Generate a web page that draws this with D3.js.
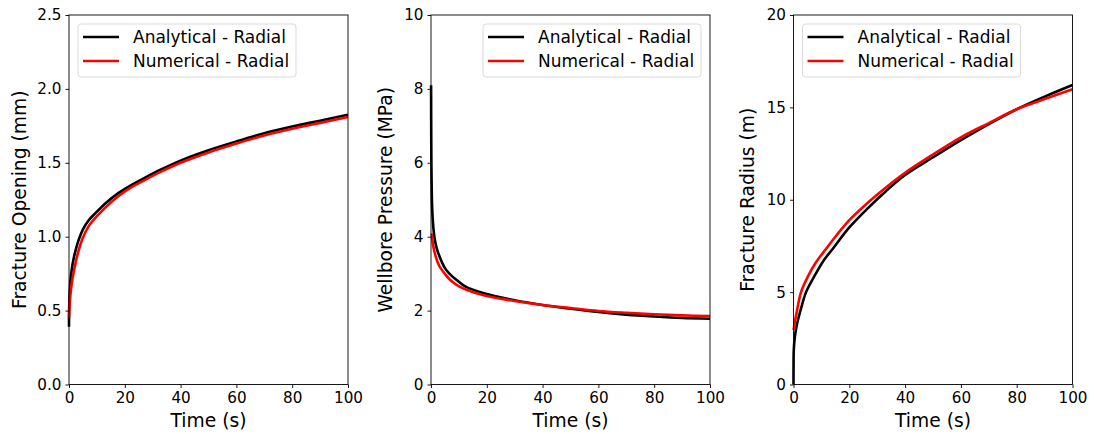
<!DOCTYPE html>
<html>
<head>
<meta charset="utf-8">
<script src="https://cdn.jsdelivr.net/npm/d3@7"></script>
<style>
  html, body { margin: 0; padding: 0; background: #fff; }
  svg text { font-family: "DejaVu Sans", sans-serif; fill: #000; }
</style>
</head>
<body>
<svg id="chart" width="1094" height="434"></svg>
<script>
// ---- Data ----
const seriesNames = ["Analytical - Radial", "Numerical - Radial"];
const seriesColors = ["#000000", "#ff0000"];
const xTicks = [0, 20, 40, 60, 80, 100];
const xLabel = "Time (s)";

// Panel 1: Fracture opening (mm)
const openingAnalyticalT = [0, 0.1, 0.5, 1, 1.7, 2.6, 3.6, 5, 7, 9.5, 13, 17.3, 22, 26.8, 33, 40, 50, 60, 70, 80, 90, 100];
const openingAnalyticalV = [0.39, 0.55, 0.70, 0.78, 0.855, 0.925, 0.985, 1.05, 1.11, 1.16, 1.225, 1.29, 1.345, 1.395, 1.455, 1.515, 1.585, 1.645, 1.70, 1.745, 1.785, 1.825];
const openingNumericalT = [0, 0.3, 1.1, 2, 3, 4.8, 7, 10.8, 14, 18.5, 22, 26.8, 33, 40, 50, 60, 70, 80, 90, 100];
const openingNumericalV = [0.45, 0.56, 0.70, 0.79, 0.875, 0.985, 1.07, 1.155, 1.215, 1.285, 1.33, 1.38, 1.44, 1.50, 1.57, 1.63, 1.685, 1.73, 1.77, 1.81];
const openingTicks = [0.0, 0.5, 1.0, 1.5, 2.0, 2.5];

// Panel 2: Wellbore pressure (MPa)
const pressureAnalyticalT = [0.03, 0.1, 0.2, 0.5, 1.2, 2, 3.1, 5, 6.5, 10, 12.4, 19, 30, 40, 50, 60, 70, 80, 90, 100];
const pressureAnalyticalV = [8.1, 6.5, 5.6, 4.63, 4.0, 3.7, 3.46, 3.15, 3.01, 2.78, 2.65, 2.47, 2.28, 2.15, 2.05, 1.96, 1.89, 1.84, 1.80, 1.78];
const pressureNumericalT = [0.3, 0.8, 1.7, 3, 4.8, 7, 10.2, 18.5, 30, 40, 50, 60, 70, 80, 90, 100];
const pressureNumericalV = [4.09, 3.75, 3.46, 3.2, 3.01, 2.82, 2.65, 2.42, 2.26, 2.15, 2.07, 1.99, 1.94, 1.90, 1.87, 1.85];
const pressureTicks = [0, 2, 4, 6, 8, 10];

// Panel 3: Fracture radius (m)
const radiusAnalyticalT = [0, 0.02, 0.1, 0.5, 1.3, 2.5, 4.5, 8, 11, 14.1, 20, 26.7, 33, 40, 50, 60, 70, 80, 90, 100];
const radiusAnalyticalV = [0, 1.0, 1.87, 2.6, 3.3, 4.0, 5.0, 6.0, 6.75, 7.35, 8.5, 9.55, 10.45, 11.34, 12.3, 13.23, 14.1, 14.9, 15.58, 16.21];
const radiusNumericalT = [0, 0.5, 1, 2.7, 5, 8, 11.7, 15, 20, 26.7, 33, 40, 50, 60, 70, 80, 90, 100];
const radiusNumericalV = [2.95, 3.4, 3.8, 5.0, 5.8, 6.6, 7.35, 8.0, 8.9, 9.85, 10.65, 11.46, 12.45, 13.38, 14.15, 14.9, 15.45, 15.98];
const radiusTicks = [0, 5, 10, 15, 20];

const panels = [
  { yLabel: "Fracture Opening (mm)", yMax: 2.5, yTicks: openingTicks, fmt: d3.format(".1f"),
    series: [[openingAnalyticalT, openingAnalyticalV], [openingNumericalT, openingNumericalV]],
    left: 69, legendSide: "left", yLabelX: 26 },
  { yLabel: "Wellbore Pressure (MPa)", yMax: 10, yTicks: pressureTicks, fmt: d3.format("d"),
    series: [[pressureAnalyticalT, pressureAnalyticalV], [pressureNumericalT, pressureNumericalV]],
    left: 431, legendSide: "right", yLabelX: 392 },
  { yLabel: "Fracture Radius (m)", yMax: 20, yTicks: radiusTicks, fmt: d3.format("d"),
    series: [[radiusAnalyticalT, radiusAnalyticalV], [radiusNumericalT, radiusNumericalV]],
    left: 793.5, legendSide: "left", yLabelX: 754 }
];

// ---- Drawing ----
const svg = d3.select("#chart");
const plotW = 279, plotTop = 15, plotBottom = 384.5;

panels.forEach(p => {
  const x = d3.scaleLinear().domain([0, 100]).range([p.left, p.left + plotW]);
  const y = d3.scaleLinear().domain([0, p.yMax]).range([plotBottom, plotTop]);
  const g = svg.append("g");

  // curves
  const line = d3.line().x(d => x(d[0])).y(d => y(d[1])).curve(d3.curveCatmullRom.alpha(0.5));
  p.series.forEach((s, i) => {
    const pts = s[0].map((t, k) => [t, s[1][k]]);
    g.append("path").datum(pts)
      .attr("d", line)
      .attr("fill", "none")
      .attr("stroke", seriesColors[i])
      .attr("stroke-width", 2.6)
      .attr("stroke-linejoin", "round")
      .attr("stroke-linecap", "butt");
  });

  // axes
  const xAxis = d3.axisBottom(x).tickValues(xTicks).tickSize(3.5).tickPadding(4.5).tickFormat(d3.format("d"));
  const yAxis = d3.axisLeft(y).tickValues(p.yTicks).tickSize(3.5).tickPadding(4).tickFormat(p.fmt);
  const gx = g.append("g").attr("transform", `translate(0,${plotBottom})`).call(xAxis);
  const gy = g.append("g").attr("transform", `translate(${p.left},0)`).call(yAxis);
  [gx, gy].forEach(a => {
    a.select(".domain").remove();
    a.selectAll("line").attr("stroke", "#000").attr("stroke-width", 0.9);
    a.selectAll("text").attr("font-size", "15.2px").attr("font-family", "DejaVu Sans").attr("fill", "#000");
  });

  // frame
  g.append("rect").attr("x", p.left).attr("y", plotTop).attr("width", plotW).attr("height", plotBottom - plotTop)
    .attr("fill", "none").attr("stroke", "#000").attr("stroke-width", 0.9);

  // labels
  g.append("text").attr("x", p.left + plotW / 2).attr("y", 427)
    .attr("text-anchor", "middle").attr("font-size", "18.7px").text(xLabel);
  g.append("text")
    .attr("transform", `translate(${p.yLabelX},${(plotTop + plotBottom) / 2}) rotate(-90)`)
    .attr("text-anchor", "middle").attr("font-size", "18.7px").text(p.yLabel);

  // legend
  const lw = 218, lh = 53;
  const lx = p.legendSide === "left" ? p.left + 9 : p.left + plotW - 9 - lw;
  const ly = 24;
  const lg = g.append("g").attr("transform", `translate(${lx},${ly})`);
  lg.append("rect").attr("width", lw).attr("height", lh).attr("rx", 3).attr("ry", 3)
    .attr("fill", "#fff").attr("fill-opacity", 0.8).attr("stroke", "#d6d6d6").attr("stroke-width", 0.9);
  seriesNames.forEach((name, i) => {
    const yy = 13 + i * 24;
    lg.append("line").attr("x1", 5).attr("x2", 41).attr("y1", yy).attr("y2", yy)
      .attr("stroke", seriesColors[i]).attr("stroke-width", 2.6);
    lg.append("text").attr("x", 55).attr("y", yy + 6).attr("font-size", "17px").text(name);
  });
});
</script>
</body>
</html>
